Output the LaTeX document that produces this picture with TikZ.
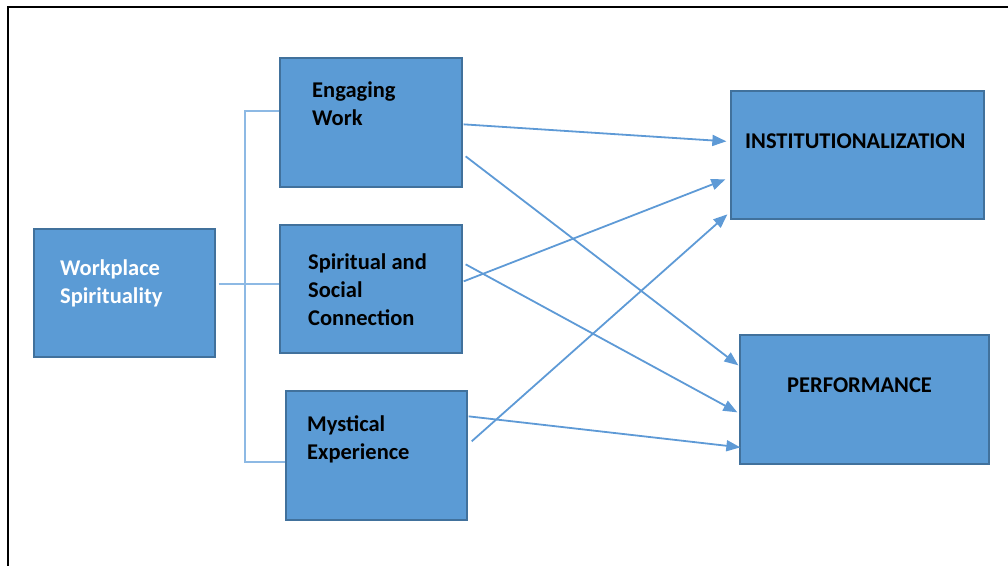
\documentclass[tikz,border=0pt]{standalone}
\usepackage{fontspec}
\setmainfont{Carlito}
\usetikzlibrary{arrows.meta}
\definecolor{boxfill}{HTML}{5B9BD5}
\definecolor{boxline}{HTML}{41719C}
\definecolor{arrcol}{HTML}{5E9AD6}
\definecolor{brkcol}{HTML}{8DB9E4}
\tikzset{
  box/.style={draw=boxline, fill=boxfill, line width=1.3pt, inner sep=0pt},
  lbl/.style={anchor=base west, align=left, inner sep=0pt, font=\fontsize{22.5}{28}\selectfont\bfseries},
  arr/.style={draw=arrcol, line width=1.8pt, -{Triangle[length=14pt,width=11pt]}},
  brk/.style={draw=brkcol, line width=2pt},
}
\begin{document}
\begin{tikzpicture}[x=1pt,y=-1pt]
\useasboundingbox (0,0) rectangle (1008,565);
\draw[black, line width=2pt] (8,566) -- (8,7) -- (1009,7);
% boxes
\node[box, minimum width=181pt, minimum height=128pt] (ws) at (124.5,293) {};
\node[box, minimum width=182pt, minimum height=129pt] (ew) at (371,122.5) {};
\node[box, minimum width=182pt, minimum height=128pt] (ssc) at (371,289) {};
\node[box, minimum width=181pt, minimum height=129pt] (me) at (376.5,455.5) {};
\node[box, minimum width=253pt, minimum height=128pt] (inst) at (857.5,155) {};
\node[box, minimum width=249pt, minimum height=129pt] (perf) at (864.5,399.5) {};
% labels (base = last line)
\node[lbl, text=white] (wsT) at (60,303) {Workplace\\Spirituality};
\node[lbl] (ewT) at (312,125) {Engaging\\Work};
\node[lbl] (sscT) at (308,325) {Spiritual and\\Social\\Connection};
\node[lbl] (meT) at (307,459) {Mystical\\Experience};
\node[lbl] (instT) at (745,148) {INSTITUTIONALIZATION};
\node[lbl] (perfT) at (787,392) {PERFORMANCE};
% bracket
\draw[brk] ([yshift=-54pt]ew.north west) -- ++(-34,0) |- ([yshift=-72pt]me.north west);
\draw[brk] ([xshift=3pt,yshift=-56pt]ws.north east) -- ([yshift=-60pt]ssc.north west);
% arrows
\draw[arr] ([xshift=1pt,yshift=-67pt]ew.north east) -- ([xshift=-4pt,yshift=-51pt]inst.north west);
\draw[arr] ([xshift=3pt,yshift=-99pt]ew.north east) -- ([xshift=-1pt,yshift=-31pt]perf.north west);
\draw[arr] ([xshift=1pt,yshift=-57pt]ssc.north east) -- ([xshift=-5pt,yshift=-89pt]inst.north west);
\draw[arr] ([xshift=3pt,yshift=-40pt]ssc.north east) -- ([xshift=-2pt,yshift=-78pt]perf.north west);
\draw[arr] ([xshift=4pt,yshift=-51pt]me.north east) -- ([xshift=-3pt,yshift=-124pt]inst.north west);
\draw[arr] ([xshift=1pt,yshift=-26pt]me.north east) -- ([xshift=1pt,yshift=-113pt]perf.north west);
\end{tikzpicture}
\end{document}
